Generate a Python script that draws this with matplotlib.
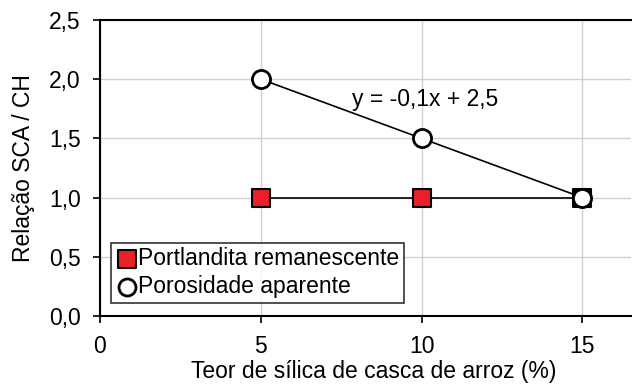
import matplotlib
matplotlib.use("Agg")
import matplotlib.pyplot as plt
from matplotlib.ticker import FuncFormatter

plt.rcParams['font.family'] = ['Liberation Sans', 'DejaVu Sans']

# data
teor = [5, 10, 15]
portlandita = [1.0, 1.0, 1.0]
porosidade = [2.0, 1.5, 1.0]
sq_colors = ['#e8202a', '#e8202a', 'black']

fig = plt.figure(figsize=(6.34, 3.87), dpi=100)
ax = fig.add_axes([0.1577, 0.1835, 0.837, 0.765])

ax.plot(teor, portlandita, '-', color='black', lw=1.2, zorder=3)
ax.scatter(teor, portlandita, marker='s', s=170, c=sq_colors,
           edgecolors='black', linewidths=1.5, zorder=4)
ax.plot(teor, porosidade, '-', color='black', lw=1.2, zorder=3)
ax.scatter(teor, porosidade, marker='o', s=170, c='white',
           edgecolors='black', linewidths=2, zorder=5)

# legend proxies
h1 = ax.scatter([], [], marker='s', s=150, c='#e8202a', edgecolors='black', linewidths=1.5)
h2 = ax.scatter([], [], marker='o', s=150, c='white', edgecolors='black', linewidths=2)
leg = ax.legend([h1, h2], ['Portlandita remanescente', 'Porosidade aparente'],
                loc='lower left', bbox_to_anchor=(0.02, 0.045), fontsize=16.5,
                frameon=True, fancybox=False, edgecolor='black', handletextpad=0.0,
                handlelength=1.0, borderpad=0.2, labelspacing=0.2, borderaxespad=0)
leg.get_frame().set_linewidth(1.2)

ax.text(7.85, 1.77, 'y = -0,1x + 2,5', fontsize=16.5)

ax.set_xlim(0, 16.5)
ax.set_ylim(0, 2.5)
ax.set_xticks([0, 5, 10, 15])
ax.set_yticks([0, 0.5, 1.0, 1.5, 2.0, 2.5])
ax.yaxis.set_major_formatter(FuncFormatter(lambda v, p: ('%.1f' % v).replace('.', ',')))
ax.grid(True, color='#d0d0d0', lw=1)
ax.set_axisbelow(True)
ax.tick_params(labelsize=16.5, length=5, width=1.2, direction='out')
ax.tick_params(axis='x', pad=9)
ax.tick_params(axis='y', pad=9)
for s in ['right']:
    ax.spines[s].set_visible(False)
for s in ['left', 'bottom', 'top']:
    ax.spines[s].set_linewidth(1.5)

ax.set_xlabel('Teor de sílica de casca de arroz (%)', fontsize=16.5, labelpad=4)
ax.xaxis.set_label_coords(0.516, -0.15)
ax.set_ylabel('Relação SCA / CH', fontsize=16.5, labelpad=10)

fig.savefig('out.png', dpi=100)
